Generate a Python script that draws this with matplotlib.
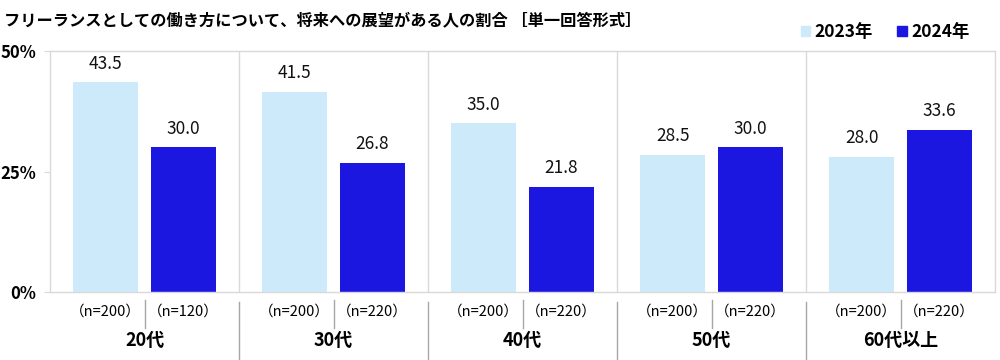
import matplotlib
matplotlib.use("Agg")
import matplotlib.pyplot as plt
import matplotlib.transforms as mtransforms
from matplotlib.patches import Patch
import numpy as np

plt.rcParams['font.family'] = ['Noto Sans CJK JP', 'DejaVu Sans']

title = "フリーランスとしての働き方について、将来への展望がある人の割合 ［単一回答形式］"
groups = ["20代", "30代", "40代", "50代", "60代以上"]
series_names = ["2023年", "2024年"]
values_2023 = [43.5, 41.5, 35.0, 28.5, 28.0]
values_2024 = [30.0, 26.8, 21.8, 30.0, 33.6]
n_2023 = ["（n=200）", "（n=200）", "（n=200）", "（n=200）", "（n=200）"]
n_2024 = ["（n=120）", "（n=220）", "（n=220）", "（n=220）", "（n=220）"]
yticks = [0, 25, 50]
ytick_labels = ["0%", "25%", "50%"]

c23 = "#cdeafb"
c24 = "#1c17e0"

fig = plt.figure(figsize=(10, 3.6), dpi=100)
ax = fig.add_axes([0.05, 0.189, 0.945, 0.669])

x = np.arange(len(groups))
off = 0.206
w = 0.344
ax.bar(x - off, values_2023, w, color=c23, zorder=2)
ax.bar(x + off, values_2024, w, color=c24, zorder=2)

for xi, v in zip(x - off, values_2023):
    ax.text(xi, v + 2.0, f"{v:.1f}", ha="center", va="bottom", fontsize=12.5, color="#111111")
for xi, v in zip(x + off, values_2024):
    ax.text(xi, v + 2.0, f"{v:.1f}", ha="center", va="bottom", fontsize=12.5, color="#111111")

ax.set_xlim(-0.5, len(groups) - 0.5)
ax.set_ylim(0, 50)
ax.set_yticks(yticks)
ax.set_yticklabels(ytick_labels, fontsize=12, fontweight="bold")
ax.tick_params(axis="y", length=4, color="#d9d9d9", pad=6)
ax.set_xticks([])
for s in ax.spines.values():
    s.set_color("#d9d9d9")
    s.set_linewidth(1.0)

trans = mtransforms.blended_transform_factory(ax.transData, ax.transAxes)
for b in np.arange(0.5, len(groups) - 0.5, 1.0):
    ax.plot([b, b], [0, 1], color="#d9d9d9", lw=1.0, transform=trans, zorder=1)
    ax.plot([b, b], [-0.04, -0.3], color="#a6a6a6", lw=1.0, transform=trans, clip_on=False)
for xi in x:
    ax.plot([xi, xi], [-0.035, -0.15], color="#a6a6a6", lw=1.0, transform=trans, clip_on=False)
    ax.text(xi - off, -0.083, n_2023[xi], ha="center", va="center", fontsize=10.5, transform=trans)
    ax.text(xi + off, -0.083, n_2024[xi], ha="center", va="center", fontsize=10.5, transform=trans)
    ax.text(xi, -0.2, groups[xi], ha="center", va="center", fontsize=13, fontweight="bold", transform=trans)

fig.text(0.004, 0.945, title, ha="left", va="center", fontsize=11.7, fontweight="bold")

handles = [Patch(color=c23), Patch(color=c24)]
leg = fig.legend(handles, series_names, loc="center right", bbox_to_anchor=(0.985, 0.91),
                 ncol=2, frameon=False, fontsize=12.5, handlelength=0.55, handleheight=0.55,
                 handletextpad=0.25, columnspacing=1.4)
for t in leg.get_texts():
    t.set_fontweight("bold")

fig.savefig("out.png", dpi=100)
